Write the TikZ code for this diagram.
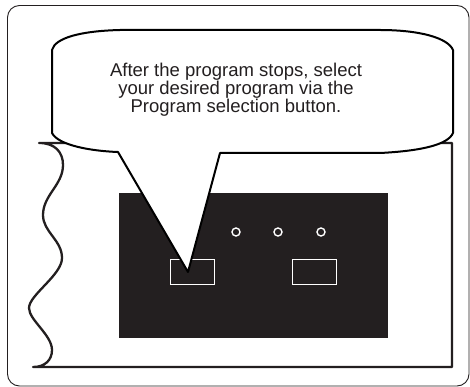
\documentclass[tikz,border=0pt]{standalone}
\usepackage{fontspec}
\setmainfont{Liberation Sans}
\definecolor{ink}{HTML}{231F20}
\begin{document}
\begin{tikzpicture}[x=1pt,y=-1pt,
  frame/.style={draw=ink,line width=0.9pt,rounded corners=12pt},
  panelline/.style={draw=ink,line width=2.3pt,line join=round},
  screen/.style={fill=ink,draw=none},
  lamp/.style={draw=white,line width=1.4pt},
  keybox/.style={draw=white,line width=1pt},
  bubble/.style={draw=black,fill=white,line width=2pt,line join=round},
  msg/.style={text=ink,align=center,inner sep=0pt,font=\fontsize{18.5pt}{18.3pt}\selectfont}]
\useasboundingbox (0,0) rectangle (470,387);
% outer frame
\draw[frame] (7.5,5.5) rectangle (469,386);
% panel with wavy left edge
\draw[panelline] (452,143) -- (39,143)
  .. controls (55,143) and (63,152) .. (63,165)
  .. controls (63,185) and (43,195) .. (43,215)
  .. controls (43,232) and (62,240) .. (62,258)
  .. controls (62,275) and (29,295) .. (29,308)
  .. controls (29,320) and (52,335) .. (52,350)
  .. controls (52,360) and (45,367) .. (33,367)
  -- (452,367) -- cycle;
% display
\fill[screen] (119,193) rectangle (388,338);
\draw[lamp] (236,232) circle (4pt);
\draw[lamp] (278,232) circle (4pt);
\draw[lamp] (321,232) circle (4pt);
\draw[keybox] (170,259) rectangle (214,284);
\draw[keybox] (292,259) rectangle (336,284);
% callout
\coordinate (tip) at (188,272);
\draw[bubble] (118,152) -- (tip) -- (220,153) -- (380,153)
  .. controls (420,151) and (448,145) .. (453,133)
  -- (453,50)
  .. controls (448,38) and (420,30) .. (380,30)
  -- (120,30)
  .. controls (80,31) and (55,38) .. (52,50)
  -- (52,133)
  .. controls (58,145) and (90,151) .. cycle;
\node[msg,anchor=north] (text) at (236,62.5) {After the program stops, select\\your desired program via the\\Program selection button.};
\end{tikzpicture}
\end{document}
